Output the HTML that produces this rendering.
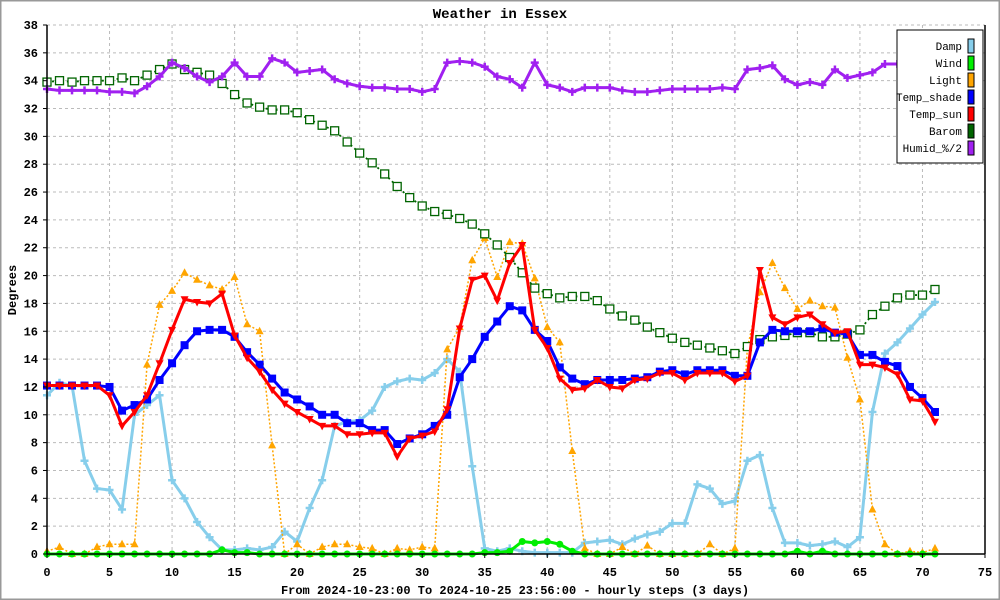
<!DOCTYPE html>
<html><head><meta charset="utf-8"><style>
html,body{margin:0;padding:0;background:#fff}
svg{display:block}
text{font-family:"Liberation Mono","DejaVu Sans Mono",monospace;fill:#000}
</style></head><body>
<svg id="chart" width="1000" height="600" viewBox="0 0 1000 600" xmlns="http://www.w3.org/2000/svg">
<rect x="0.5" y="0.5" width="999" height="599" fill="#fff" stroke="#999" stroke-width="2"/>
<text x="500" y="18" text-anchor="middle" font-size="14" font-weight="bold">Weather in Essex</text>
<text transform="translate(16,290) rotate(-90)" text-anchor="middle" font-size="12" font-weight="bold">Degrees</text>
<text x="515" y="594" text-anchor="middle" font-size="12" font-weight="bold">From 2024-10-23:00 To 2024-10-25 23:56:00 - hourly steps (3 days)</text>
<g id="grid"></g>
<g id="series"></g>
<g id="axes"></g>
<g id="legend"></g>
</svg>
<script>
const xTicks=[0,5,10,15,20,25,30,35,40,45,50,55,60,65,70,75];
const yTicks=[0,2,4,6,8,10,12,14,16,18,20,22,24,26,28,30,32,34,36,38];
const seriesNames=["Damp","Wind","Light","Temp_shade","Temp_sun","Barom","Humid_%/2"];
const damp=[11.4,12.3,12.1,6.7,4.7,4.6,3.2,10.0,10.7,11.4,5.3,4.0,2.3,1.2,0.3,0.3,0.4,0.3,0.5,1.6,0.9,3.3,5.3,9.2,9.5,9.6,10.3,12.0,12.4,12.6,12.5,13.0,14.0,13.1,6.3,0.4,0.2,0.4,0.2,0.1,0.1,0.1,0.1,0.8,0.9,1.0,0.7,1.1,1.4,1.6,2.2,2.2,5.0,4.7,3.6,3.8,6.7,7.1,3.3,0.8,0.8,0.6,0.7,0.9,0.5,1.2,10.2,14.4,15.2,16.2,17.2,18.1];
const wind=[0,0,0,0,0,0,0,0,0,0,0,0,0,0,0.3,0.1,0.1,0,0,0,0,0,0,0,0,0,0,0,0,0,0,0,0,0,0,0.1,0.1,0.2,0.9,0.8,0.9,0.7,0.2,0,0,0,0,0,0,0,0,0,0,0,0,0,0,0,0,0,0.2,0,0.2,0,0,0,0,0,0,0,0,0];
const light=[0.2,0.5,0,0,0.5,0.7,0.7,0.7,13.6,17.9,18.9,20.2,19.7,19.3,19.0,19.9,16.5,16.0,7.8,0,0.7,0,0.5,0.7,0.7,0.5,0.4,0,0.4,0.3,0.5,0.4,14.7,16.3,21.1,22.7,19.9,22.4,22.3,19.8,16.3,15.2,7.4,0.4,0,0,0.5,0,0.6,0,0,0,0,0.7,0,0.4,14.8,18.8,20.9,19.1,17.6,18.2,17.8,17.7,14.1,11.1,3.2,0.7,0,0.2,0.1,0.4];
const tempShade=[12.1,12.1,12.1,12.1,12.1,12.0,10.3,10.7,11.1,12.5,13.7,15.0,16.0,16.1,16.1,15.6,14.5,13.6,12.6,11.6,11.1,10.6,10.0,10.0,9.4,9.4,8.9,8.9,7.9,8.3,8.6,9.2,10.0,12.7,14.0,15.6,16.7,17.8,17.5,16.1,15.3,13.4,12.6,12.2,12.5,12.5,12.5,12.6,12.7,13.1,13.2,12.9,13.2,13.2,13.2,12.8,12.8,15.2,16.1,16.0,16.0,16.0,16.2,15.9,15.8,14.3,14.3,13.8,13.5,12.0,11.2,10.2];
const tempSun=[12.1,12.1,12.1,12.1,12.1,11.4,9.2,10.2,11.4,13.7,16.1,18.3,18.1,18.0,18.7,15.7,14.1,13.1,11.8,10.8,10.2,9.7,9.2,9.2,8.6,8.6,8.7,8.7,7.0,8.3,8.5,8.8,10.4,16.2,19.7,20.0,18.2,20.9,22.2,16.1,14.8,12.6,11.8,11.9,12.5,12.0,11.9,12.5,12.6,13.0,13.0,12.5,13.0,13.0,13.0,12.4,12.8,20.4,17.0,16.5,17.0,17.2,16.5,15.9,16.0,13.6,13.6,13.4,12.9,11.1,11.0,9.5];
const barom=[33.9,34.0,33.9,34.0,34.0,34.0,34.2,34.0,34.4,34.8,35.2,34.8,34.6,34.4,33.8,33.0,32.4,32.1,31.9,31.9,31.7,31.2,30.8,30.4,29.6,28.8,28.1,27.3,26.4,25.6,25.0,24.6,24.4,24.1,23.7,23.0,22.2,21.3,20.2,19.1,18.7,18.4,18.5,18.5,18.2,17.6,17.1,16.8,16.3,15.9,15.5,15.2,15.0,14.8,14.6,14.4,14.9,15.4,15.6,15.7,15.9,15.9,15.6,15.6,15.8,16.1,17.2,17.8,18.4,18.6,18.6,19.0];
const humid=[33.4,33.3,33.3,33.3,33.3,33.2,33.2,33.1,33.6,34.3,35.3,34.9,34.3,33.9,34.3,35.3,34.3,34.3,35.6,35.3,34.6,34.7,34.8,34.1,33.8,33.6,33.5,33.5,33.4,33.4,33.2,33.4,35.3,35.4,35.3,35.0,34.3,34.1,33.5,35.3,33.7,33.5,33.2,33.5,33.5,33.5,33.3,33.2,33.2,33.3,33.4,33.4,33.4,33.4,33.5,33.4,34.8,34.9,35.1,34.1,33.7,33.9,33.7,34.8,34.2,34.4,34.6,35.2,35.2,35.0,35.0,35.0];

const NS='http://www.w3.org/2000/svg';
const X0=47,X1=985,Y0=554,Y1=25,XMAX=75,YMAX=38;
function xs(v){return X0+(X1-X0)*v/XMAX;}
function ys(v){return Y0-(Y0-Y1)*v/YMAX;}
function mk(tag,attrs,parent){const e=document.createElementNS(NS,tag);for(const k in attrs)e.setAttribute(k,attrs[k]);parent.appendChild(e);return e;}
const grid=document.getElementById('grid'),axes=document.getElementById('axes'),ser=document.getElementById('series'),leg=document.getElementById('legend');

xTicks.forEach(t=>{
  if(t>0&&t<XMAX){const l=mk('line',{x1:xs(t),x2:xs(t),y1:Y1,y2:Y0,stroke:'#bbb','stroke-dasharray':'3,3'},grid);
  
  }
  const tk=mk('line',{x1:xs(t),x2:xs(t),y1:Y0,y2:Y0+4,stroke:'#000'},axes);
  
  
  const tx=mk('text',{x:xs(t),y:Y0+22,'text-anchor':'middle','font-size':'12','font-weight':'bold'},axes);
  tx.textContent=t;
  
  
});
yTicks.forEach(t=>{
  if(t>0){const l=mk('line',{x1:X0,x2:X1,y1:ys(t),y2:ys(t),stroke:'#bbb','stroke-dasharray':'3,3'},grid);
  
  }
  const tk=mk('line',{x1:X0-4,x2:X0,y1:ys(t),y2:ys(t),stroke:'#000'},axes);
  
  
  const tx=mk('text',{x:X0-9,y:ys(t)+4,'text-anchor':'end','font-size':'12','font-weight':'bold'},axes);
  tx.textContent=t;
  
  
});
const ax1=mk('line',{x1:X0,x2:X0,y1:Y1,y2:Y0,stroke:'#000','stroke-width':1.5},axes);


const ax2=mk('line',{x1:X0,x2:X1,y1:Y0,y2:Y0,stroke:'#000','stroke-width':1.5},axes);


const ax3=mk('line',{x1:X1,x2:X1,y1:Y1,y2:Y0,stroke:'#000','stroke-width':1.5},axes);



function marker(type,x,y,color,g){
  let e;
  if(type==='circle')e=mk('circle',{cx:x,cy:y,r:3.5,fill:color},g);
  else if(type==='up')e=mk('polygon',{points:`${x},${y-4.5} ${x-4},${y+3} ${x+4},${y+3}`,fill:color},g);
  else if(type==='down')e=mk('polygon',{points:`${x},${y+4.5} ${x-4},${y-3} ${x+4},${y-3}`,fill:color},g);
  else if(type==='square')e=mk('rect',{x:x-4,y:y-4,width:8,height:8,fill:color},g);
  else if(type==='hollow')e=mk('rect',{x:x-4,y:y-4,width:8,height:8,fill:'#fff',stroke:color,'stroke-width':1.3},g);
  else e=mk('path',{d:`M${x-4},${y}L${x+4},${y}M${x},${y-4}L${x},${y+4}`,stroke:color,'stroke-width':2.5},g);
  return e;
}
const defs=[
 {d:damp,c:'#87ceeb',w:3,dash:null,m:'cross',n:'damp'},
 {d:light,c:'#ffa500',w:1.5,dash:'2,2',m:'up',n:'light'},
 {d:barom,c:'#006400',w:1.8,dash:'2,3',m:'hollow',n:'barom'},
 {d:humid,c:'#a020f0',w:3,dash:null,m:'cross',n:'humid'},
 {d:tempShade,c:'#0000ff',w:3,dash:null,m:'square',n:'temp-shade'},
 {d:tempSun,c:'#ff0000',w:3,dash:null,m:'down',n:'temp-sun'},
 {d:wind,c:'#00ee00',w:3,dash:null,m:'circle',n:'wind'}
];
defs.forEach(s=>{
  const g=mk('g',{},ser);
  
  
  const pts=s.d.map((v,i)=>xs(i)+','+ys(v)).join(' ');
  const a={points:pts,fill:'none',stroke:s.c,'stroke-width':s.w,'stroke-linejoin':'round'};
  if(s.dash)a['stroke-dasharray']=s.dash;
  const pl=mk('polyline',a,g);
  
  
  s.d.forEach((v,i)=>{
    const m=marker(s.m,xs(i),ys(v),s.c,g);
    
    
  });
});
const lb=mk('rect',{x:897,y:30,width:86,height:133,fill:'#fff',stroke:'#000','stroke-width':1},leg);


const legColors=['#87ceeb','#00ee00','#ffa500','#0000ff','#ff0000','#006400','#a020f0'];
seriesNames.forEach((n,i)=>{
  const y=46+i*17;
  const t=mk('text',{x:962,y:y+4,'text-anchor':'end','font-size':'11'},leg);
  t.textContent=n;
  
  
  const r=mk('rect',{x:968,y:y-7,width:6,height:14,fill:legColors[i],stroke:'#000','stroke-width':1},leg);
  
  
});
</script>
</body></html>
